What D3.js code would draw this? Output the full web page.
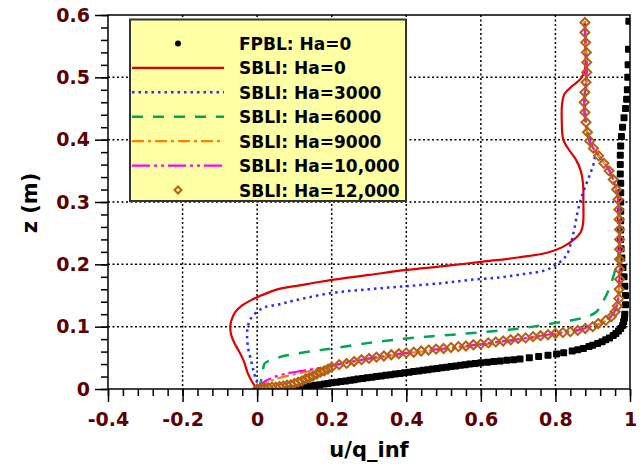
<!DOCTYPE html>
<html>
<head>
<meta charset="utf-8">
<script src="https://cdn.jsdelivr.net/npm/d3@7"></script>
<style>
  body { margin: 0; background: #fff; }
  svg { display: block; }
  .tick-label { font-family: "DejaVu Sans", sans-serif; font-weight: bold; font-size: 19px; fill: #5c0000; }
  .title { font-family: "DejaVu Sans", sans-serif; font-weight: bold; font-size: 21px; fill: #000; }
  .legend text { font-family: "DejaVu Sans", sans-serif; font-weight: bold; font-size: 17px; fill: #000; }
</style>
</head>
<body>
<div id="chart"></div>
<script>
// tick labels
const xTickVals = [-0.4, -0.2, 0, 0.2, 0.4, 0.6, 0.8, 1];
const xTickLabels = ["-0.4", "-0.2", "0", "0.2", "0.4", "0.6", "0.8", "1"];
const yTickVals = [0, 0.1, 0.2, 0.3, 0.4, 0.5, 0.6];
const yTickLabels = ["0", "0.1", "0.2", "0.3", "0.4", "0.5", "0.6"];

const seriesNames = ["FPBL: Ha=0", "SBLI: Ha=0", "SBLI: Ha=3000", "SBLI: Ha=6000",
                     "SBLI: Ha=9000", "SBLI: Ha=10,000", "SBLI: Ha=12,000"];

// FPBL (black squares)
const fpblU = [0.0, 0.085, 0.097, 0.11, 0.12, 0.13, 0.143, 0.155, 0.168, 0.18, 0.19, 0.2, 0.213, 0.225, 0.238,
  0.25, 0.26, 0.27, 0.283, 0.295, 0.308, 0.32, 0.333, 0.345, 0.358, 0.37, 0.383, 0.395, 0.408, 0.42, 0.433,
  0.445, 0.458, 0.47, 0.483, 0.495, 0.508, 0.52, 0.533, 0.545, 0.558, 0.57, 0.585, 0.6, 0.618, 0.635, 0.652,
  0.67, 0.688, 0.705, 0.73, 0.755, 0.78, 0.803, 0.822, 0.845, 0.86, 0.875, 0.89, 0.9, 0.913, 0.925, 0.935,
  0.945, 0.955, 0.962, 0.969, 0.975, 0.98, 0.983, 0.985, 0.986, 0.988, 0.988, 0.986, 0.984, 0.981, 0.978,
  0.976, 0.975, 0.975, 0.975, 0.975, 0.975, 0.975, 0.975, 0.974, 0.974, 0.974, 0.975, 0.977, 0.98, 0.984,
  0.988, 0.991, 0.993, 0.994, 0.995, 0.996, 0.997];
const fpblZ = [0.0, 0.0, 0.001, 0.002, 0.003, 0.004, 0.005, 0.006, 0.007, 0.008, 0.009, 0.01, 0.011, 0.012, 0.013,
  0.014, 0.015, 0.016, 0.017, 0.018, 0.019, 0.02, 0.021, 0.022, 0.023, 0.024, 0.025, 0.026, 0.027, 0.028, 0.029,
  0.03, 0.031, 0.032, 0.033, 0.034, 0.035, 0.036, 0.037, 0.038, 0.039, 0.04, 0.041, 0.042, 0.043, 0.044, 0.045,
  0.046, 0.047, 0.048, 0.05, 0.052, 0.054, 0.056, 0.058, 0.061, 0.063, 0.065, 0.068, 0.07, 0.073, 0.076, 0.079,
  0.082, 0.086, 0.089, 0.093, 0.097, 0.102, 0.108, 0.114, 0.12, 0.135, 0.15, 0.165, 0.18, 0.195, 0.21,
  0.225, 0.24, 0.255, 0.27, 0.285, 0.3, 0.315, 0.33, 0.345, 0.36, 0.375, 0.39, 0.405, 0.42, 0.435,
  0.45, 0.465, 0.48, 0.5, 0.52, 0.545, 0.59];

// SBLI Ha=0 (red solid)
const ha0U = [0.0, -0.012, -0.025, -0.036, -0.05, -0.062, -0.07, -0.072, -0.068, -0.058, -0.04, -0.015, 0.015,
  0.05, 0.1, 0.15, 0.2, 0.3, 0.4, 0.5, 0.6, 0.7, 0.78, 0.82, 0.85, 0.868, 0.874, 0.875, 0.874, 0.868, 0.855,
  0.835, 0.821, 0.817, 0.818, 0.825, 0.845, 0.868, 0.879, 0.881, 0.88, 0.879];
const ha0Z = [0.0, 0.01, 0.025, 0.045, 0.062, 0.075, 0.088, 0.1, 0.112, 0.124, 0.134, 0.143, 0.151,
  0.159, 0.165, 0.17, 0.175, 0.183, 0.191, 0.197, 0.204, 0.211, 0.219, 0.228, 0.24, 0.252, 0.265, 0.3, 0.33, 0.35, 0.368,
  0.385, 0.4, 0.43, 0.458, 0.474, 0.486, 0.498, 0.512, 0.53, 0.56, 0.59];

// SBLI Ha=3000 (blue dotted)
const ha3000U = [0.004, 0.0, -0.008, -0.016, -0.024, -0.027, -0.025, -0.016, 0.0, 0.02, 0.06, 0.1, 0.2, 0.3,
  0.4, 0.5, 0.571, 0.65, 0.72, 0.77, 0.804, 0.83, 0.842, 0.85, 0.858, 0.866, 0.877, 0.893, 0.904, 0.905,
  0.898, 0.888, 0.882, 0.878, 0.882, 0.884, 0.88, 0.879];
const ha3000Z = [0.0, 0.01, 0.025, 0.045, 0.065, 0.085, 0.1, 0.114, 0.124, 0.131, 0.136, 0.142, 0.154, 0.16,
  0.165, 0.17, 0.175, 0.179, 0.185, 0.19, 0.2, 0.215, 0.235, 0.255, 0.28, 0.3, 0.32, 0.345, 0.365, 0.38,
  0.39, 0.41, 0.43, 0.46, 0.49, 0.52, 0.56, 0.59];

// SBLI Ha=6000 (green dashed)
const ha6000U = [0.0, 0.008, 0.013, 0.016, 0.02, 0.04, 0.08, 0.14, 0.2, 0.3, 0.4, 0.5, 0.6, 0.705, 0.78,
  0.84, 0.885, 0.91, 0.925, 0.94, 0.955, 0.964, 0.97, 0.972, 0.97, 0.962, 0.945, 0.915, 0.893, 0.883,
  0.877, 0.882, 0.884, 0.88, 0.879];
const ha6000Z = [0.0, 0.008, 0.02, 0.032, 0.041, 0.047, 0.054, 0.06, 0.065, 0.074, 0.081, 0.086, 0.091, 0.097, 0.104,
  0.11, 0.116, 0.124, 0.138, 0.155, 0.18, 0.2, 0.22, 0.26, 0.3, 0.322, 0.35, 0.375, 0.395, 0.42,
  0.46, 0.49, 0.52, 0.56, 0.59];

// SBLI Ha=9000 (orange dash-dot)
const ha9000U = [0.0, 0.02, 0.05, 0.08, 0.12, 0.17, 0.22, 0.3, 0.4, 0.5, 0.6, 0.7, 0.8, 0.87, 0.92, 0.95,
  0.965, 0.971, 0.972, 0.969, 0.962, 0.945, 0.915, 0.893, 0.883, 0.877, 0.882, 0.884, 0.88, 0.879];
const ha9000Z = [0.0, 0.008, 0.016, 0.021, 0.026, 0.033, 0.04, 0.048, 0.057, 0.064, 0.071, 0.079, 0.088, 0.095,
  0.105, 0.116, 0.134, 0.17, 0.24, 0.3, 0.322, 0.35, 0.375, 0.395, 0.42, 0.46, 0.49, 0.52, 0.56, 0.59];

// SBLI Ha=10,000 (magenta dash-dot-dot)
const ha10000U = [0.0, 0.015, 0.04, 0.08, 0.12, 0.17, 0.22, 0.3, 0.4, 0.5, 0.6, 0.7, 0.8, 0.87, 0.92, 0.95,
  0.965, 0.971, 0.972, 0.969, 0.962, 0.945, 0.915, 0.893, 0.883, 0.877, 0.882, 0.884, 0.88, 0.879];
const ha10000Z = [0.0, 0.01, 0.018, 0.025, 0.029, 0.034, 0.04, 0.049, 0.058, 0.065, 0.072, 0.08, 0.089, 0.096,
  0.106, 0.117, 0.135, 0.17, 0.24, 0.3, 0.322, 0.35, 0.375, 0.395, 0.42, 0.46, 0.49, 0.52, 0.56, 0.59];

// SBLI Ha=12,000 (brown diamonds)
const ha12000U = [0.0, 0.01, 0.02, 0.03, 0.04, 0.05, 0.06, 0.07, 0.08, 0.09, 0.1, 0.11, 0.12, 0.13, 0.14,
  0.15, 0.16, 0.17, 0.18, 0.19, 0.2, 0.22, 0.24, 0.26, 0.28, 0.3, 0.32, 0.34, 0.36, 0.38, 0.4, 0.42, 0.44,
  0.46, 0.48, 0.5, 0.52, 0.54, 0.56, 0.58, 0.6, 0.62, 0.64, 0.66, 0.68, 0.7, 0.72, 0.74, 0.76, 0.78, 0.8,
  0.82, 0.84, 0.86, 0.88, 0.9, 0.915, 0.935, 0.95, 0.96, 0.966, 0.97, 0.971, 0.972, 0.972, 0.972, 0.972,
  0.972, 0.972, 0.971, 0.97, 0.968, 0.964, 0.955, 0.944, 0.93, 0.916, 0.902, 0.892, 0.886, 0.882, 0.879,
  0.877, 0.879, 0.882, 0.884, 0.884, 0.883, 0.881, 0.879, 0.879];
const ha12000Z = [0.0, 0.001, 0.001, 0.002, 0.003, 0.003, 0.004, 0.005, 0.006, 0.007, 0.009, 0.011, 0.013, 0.016, 0.018,
  0.021, 0.024, 0.027, 0.029, 0.032, 0.035, 0.039, 0.041, 0.044, 0.047, 0.049, 0.051, 0.053, 0.055, 0.0565, 0.058, 0.059, 0.061,
  0.0625, 0.064, 0.065, 0.0665, 0.068, 0.069, 0.071, 0.072, 0.074, 0.0755, 0.077, 0.079, 0.081, 0.082, 0.084, 0.0855, 0.087, 0.089,
  0.0905, 0.092, 0.094, 0.097, 0.1, 0.105, 0.11, 0.116, 0.124, 0.133, 0.145, 0.16, 0.176, 0.192, 0.208, 0.224,
  0.24, 0.256, 0.272, 0.288, 0.304, 0.32, 0.336, 0.35, 0.362, 0.374, 0.386, 0.398, 0.412, 0.428, 0.444,
  0.46, 0.476, 0.492, 0.508, 0.524, 0.54, 0.556, 0.572, 0.588];

const width = 641, height = 467;
const plotLeft = 108, plotRight = 630, plotTop = 15, plotBottom = 389;

const x = d3.scaleLinear().domain([-0.4, 1]).range([plotLeft, plotRight]);
const y = d3.scaleLinear().domain([0, 0.6]).range([plotBottom, plotTop]);

const svg = d3.select("#chart").append("svg")
    .attr("width", width)
    .attr("height", height);

svg.append("defs").append("clipPath").attr("id", "clip")
    .append("rect")
    .attr("x", plotLeft).attr("y", plotTop)
    .attr("width", plotRight - plotLeft).attr("height", plotBottom - plotTop);

// grid
const grid = svg.append("g").attr("stroke", "#000").attr("stroke-width", 1.5)
    .attr("stroke-dasharray", "2,2.5");
grid.selectAll(".gx").data(xTickVals.slice(1, -1)).enter().append("line")
    .attr("x1", d => x(d)).attr("x2", d => x(d))
    .attr("y1", plotTop).attr("y2", plotBottom);
grid.selectAll(".gy").data(yTickVals.slice(1, -1)).enter().append("line")
    .attr("x1", plotLeft).attr("x2", plotRight)
    .attr("y1", d => y(d)).attr("y2", d => y(d));

// axes
const xAxis = svg.append("g").attr("transform", `translate(0,${plotBottom})`)
    .call(d3.axisBottom(x).tickValues(xTickVals).tickSize(13).tickPadding(11)
        .tickFormat((d, i) => xTickLabels[i]));
const xMinor = svg.append("g").attr("transform", `translate(0,${plotBottom})`)
    .call(d3.axisBottom(x).tickValues(d3.range(-0.4, 1.001, 0.04)).tickSize(7).tickFormat(""));
const yAxis = svg.append("g").attr("transform", `translate(${plotLeft},0)`)
    .call(d3.axisLeft(y).tickValues(yTickVals).tickSize(13).tickPadding(5)
        .tickFormat((d, i) => yTickLabels[i]));
const yMinor = svg.append("g").attr("transform", `translate(${plotLeft},0)`)
    .call(d3.axisLeft(y).tickValues(d3.range(0, 0.601, 0.02)).tickSize(7).tickFormat(""));

[xAxis, xMinor, yAxis, yMinor].forEach(g => {
    g.select(".domain").remove();
    g.selectAll("line").attr("stroke", "#000").attr("stroke-width", 1.5);
    g.attr("font-family", null).attr("font-size", null);
    g.selectAll("text").attr("class", "tick-label").attr("fill", null);
});

const lineGen = d3.line()
    .x(d => x(d[0]))
    .y(d => y(d[1]))
    .curve(d3.curveCatmullRom.alpha(0.5));

const zip = (u, z) => u.map((v, i) => [v, z[i]]);

const plot = svg.append("g").attr("clip-path", "url(#clip)");

// FPBL squares
plot.selectAll(".fpbl").data(zip(fpblU, fpblZ)).enter().append("rect")
    .attr("x", d => x(d[0]) - 3.5).attr("y", d => y(d[1]) - 3.5)
    .attr("width", 7).attr("height", 7).attr("rx", 1)
    .attr("fill", "#000");

const lines = [
    { u: ha0U, z: ha0Z, color: "#e00000", dash: null, w: 2.2 },
    { u: ha3000U, z: ha3000Z, color: "#2b2bff", dash: "2.5,4", w: 2.5 },
    { u: ha6000U, z: ha6000Z, color: "#00a651", dash: "11,10", w: 2.5 },
    { u: ha9000U, z: ha9000Z, color: "#ff8000", dash: "12,4,3,4", w: 2.2 },
    { u: ha10000U, z: ha10000Z, color: "#ff00ff", dash: "18,4,3,4,3,4", w: 2.2 }
];

lines.forEach(s => {
    plot.append("path")
        .datum(zip(s.u, s.z))
        .attr("d", lineGen)
        .attr("fill", "none")
        .attr("stroke", s.color)
        .attr("stroke-width", s.w)
        .attr("stroke-dasharray", s.dash);
});

const diamond = (cx, cy, r) => `M${cx},${cy - r}L${cx + r},${cy}L${cx},${cy + r}L${cx - r},${cy}Z`;

plot.selectAll(".dia").data(zip(ha12000U, ha12000Z)).enter().append("path")
    .attr("d", d => diamond(x(d[0]), y(d[1]), 4.5))
    .attr("fill", "none")
    .attr("stroke", "#b5600c")
    .attr("stroke-width", 2);

// frame
svg.append("rect")
    .attr("x", plotLeft).attr("y", plotTop)
    .attr("width", plotRight - plotLeft).attr("height", plotBottom - plotTop)
    .attr("fill", "none").attr("stroke", "#000").attr("stroke-width", 1.5);

// titles
svg.append("text").attr("class", "title")
    .attr("x", (plotLeft + plotRight) / 2).attr("y", 457)
    .attr("text-anchor", "middle")
    .text("u/q_inf");
svg.append("text").attr("class", "title")
    .attr("transform", "translate(37,203) rotate(-90)")
    .attr("text-anchor", "middle")
    .text("z (m)");

// legend
const legend = svg.append("g").attr("class", "legend");
legend.append("rect")
    .attr("x", 130).attr("y", 19.5)
    .attr("width", 276).attr("height", 181.5)
    .attr("fill", "#ffffa3").attr("stroke", "#333").attr("stroke-width", 2);

const rowY = d3.scalePoint().domain(seriesNames).range([43.5, 190]);
const styles = [null].concat(lines);

seriesNames.forEach((name, i) => {
    const cy = rowY(name);
    if (i === 0) {
        legend.append("circle").attr("cx", 178).attr("cy", cy).attr("r", 3).attr("fill", "#000");
    } else if (i === 6) {
        legend.append("path").attr("d", diamond(178, cy, 3.5))
            .attr("fill", "none").attr("stroke", "#b5600c").attr("stroke-width", 2);
    } else {
        const s = styles[i];
        legend.append("line")
            .attr("x1", 132).attr("x2", 224).attr("y1", cy).attr("y2", cy)
            .attr("stroke", s.color).attr("stroke-width", s.w)
            .attr("stroke-dasharray", s.dash);
    }
    legend.append("text")
        .attr("x", 239).attr("y", cy + 6.5)
        .text(name);
});
</script>
</body>
</html>
